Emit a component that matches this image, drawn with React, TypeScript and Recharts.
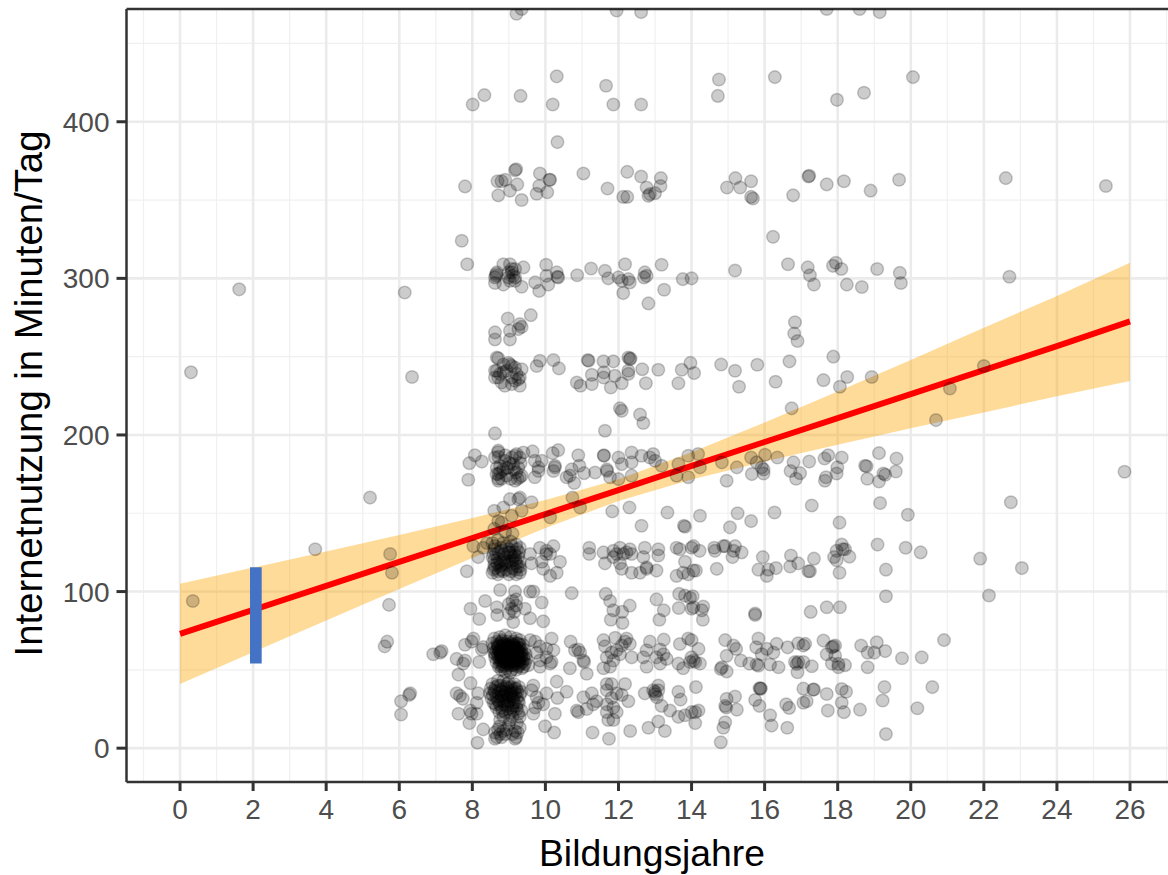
import React from "react";
import { ComposedChart, Scatter, Area, Line, XAxis, YAxis, ZAxis, CartesianGrid, ReferenceLine } from "recharts";

type P = [number, number];

const xTicks = [0, 2, 4, 6, 8, 10, 12, 14, 16, 18, 20, 22, 24, 26];
const yTicks = [0, 100, 200, 300, 400];
const xMinor = [-1, 1, 3, 5, 7, 9, 11, 13, 15, 17, 19, 21, 23, 25, 27];
const yMinor = [50, 150, 250, 350, 450];

const fitX = [0, 2, 4, 6, 8, 10, 12, 14, 16, 18, 20, 22, 24, 26];
const fitY = [73, 88.3, 103.6, 118.9, 134.2, 149.5, 164.8, 180.2, 195.5, 210.8, 226.1, 241.4, 256.7, 272.5];
const ciHigh = [105, 115.3, 125.6, 136.1, 147, 158.4, 171.8, 188.9, 208, 227.8, 247.9, 268.4, 288.7, 310];
const ciLow = [41, 61.3, 81.6, 101.7, 121.4, 140.6, 157.8, 171.5, 183, 193.8, 204.3, 214.4, 224.7, 234.5];

const outliers: P[] = [[0.3,240],[1.62,293],[0.35,94],[3.7,127],[5.2,160],[5.75,124],[5.8,112],[6.15,291],[6.35,237],[5.72,91.5],[5.6,65],[5.67,68],[6.05,30],[6.27,34],[6.3,35],[6.05,21.5],[6.93,60],[7.12,61],[21.9,121],[22.14,97.5],[23.04,115],[22.74,157],[22.7,301],[22.6,364],[22,244],[25.34,359],[25.85,176.5]];

const band120: P[] = [[7.85,113],[8.16,122],[8.03,129],[8.55,131],[8.7,133],[8.85,131],[9.05,132],[9.2,130],[8.6,127],[8.8,126],[9,127],[9.15,125],[9.3,128],[8.55,122],[8.7,121],[8.9,122],[9.1,120],[9.25,122],[8.6,117],[8.75,116],[8.95,117],[9.1,115],[9.3,116],[8.55,112],[8.7,111],[8.85,113],[9,111],[9.2,111],[9.3,112],[8.65,124],[8.95,119],[9.05,123],[8.8,114],[9.2,118],[9.58,124],[9.62,118],[9.85,128],[10.03,126],[10.22,129],[10.13,124],[10.4,119],[9.94,114.5],[10.31,112],[10.13,110],[9.9,119],[10.02,124],[11.2,128],[11.2,124],[11.59,125],[11.63,118],[11.86,126],[12.04,128],[12.31,127],[11.86,122],[12.13,124],[12.36,124],[12.04,118],[12.09,114.5],[12.36,112],[12.59,112],[12.77,114.5],[13.04,113.4],[12.72,128],[12.68,122],[13.09,127],[13.09,123],[11.95,124],[12.22,125],[12.77,115.5],[13.59,128],[13.68,127],[13.82,119],[13.59,110],[13.77,112],[13.91,111],[14.05,129],[14.22,126],[14.62,128],[14.64,126],[14.87,129],[15.19,129],[15.15,126],[15.12,122],[15.37,125],[15.95,122],[15.83,114],[16.1,114],[16.06,110],[16.31,115],[16.72,123],[16.7,116],[16.92,118],[17.2,113],[17.24,113],[17.35,121],[17.9,122],[17.97,126],[18.11,130],[18.2,127],[18.32,122.3],[17.97,120],[18.05,112],[19.09,130],[19.32,114],[19.86,128],[20.27,125],[14.69,114.5],[14.05,113.4],[14.12,113.4],[14.92,129],[18.14,127],[14,128]];

const block120: P[] = [[8.62,129],[8.78,128],[8.93,129],[9.08,129],[9.22,127],[8.58,124],[8.72,125],[8.87,124],[9.02,125],[9.17,123],[9.28,125],[8.6,120],[8.76,119],[8.9,118],[9.05,119],[9.18,120],[9.3,119],[8.62,115],[8.8,117],[8.93,114],[9.06,113],[9.18,114],[9.32,114],[8.72,113],[8.85,120],[9.12,122],[8.68,118],[8.98,125],[9.24,116],[8.58,114]];

const band90: P[] = [[8.76,101],[9.17,100],[9.67,100],[9.58,100],[9.9,93],[8.35,94],[7.95,89],[8.19,82.5],[8.68,85],[8.67,90],[9.08,89],[9,92],[9.15,87],[9.1,94],[9,86],[9.2,91],[9.44,89],[9.58,83],[9.94,81],[9.12,80.5],[10.72,99],[9.2,95],[11.65,98.5],[11.77,94],[11.86,88],[12.31,91],[12.1,87],[11.79,82],[12.11,80],[13.04,95],[13.24,88],[13.12,82],[13.65,89.5],[13.66,98.5],[13.82,97.4],[13.96,96],[19.32,97],[17.26,87],[17.7,90],[18.06,90],[15.74,86],[15.74,85],[14.03,97],[14.32,90.5],[14.28,88],[14.31,82],[14,89],[14.05,90]];

const band60: P[] = [[7.16,62],[8.03,70],[7.8,66],[8.26,63],[7.57,57],[7.8,56],[7.75,54],[8.19,55],[7.62,47],[7.98,68],[8.3,64.5],[9.58,69],[10.17,70],[9.85,65],[9.76,61],[10.22,62.5],[10.03,58],[9.85,56],[10.13,54],[9.4,52],[9.85,52],[9.72,68],[10.03,63.5],[9.53,53],[10.17,55],[10.69,68],[10.81,62.5],[10.95,61],[11.06,55],[10.67,51],[11.13,47.5],[10.9,63],[11.04,56],[11.59,69],[11.91,70.5],[12.22,70],[11.63,65],[11.95,62.5],[12.31,66.5],[12.04,60],[12.36,58],[11.86,56],[11.59,51],[11.77,52],[11.68,58],[12.09,65.5],[12.18,68],[11.81,61],[12.86,68],[12.77,62.5],[13.24,69.3],[13.14,63],[13.04,58],[12.77,52],[13.14,54],[13.32,57],[12.68,58],[13.23,60],[13.68,66.5],[13.91,70],[13.64,54],[13.77,51],[14,58],[13.96,55],[14.1,55],[14,69],[14.92,69],[14.19,63.4],[15.15,65.5],[15.22,63.4],[14.96,59],[14.05,56],[14.23,54],[14.83,51.7],[14.8,50.6],[14.96,49],[15.35,56],[15.58,54],[15.83,70],[15.77,64.4],[16.06,63.4],[15.92,60],[16.24,61],[16.33,66.6],[15.83,52.7],[16.15,53.4],[16.38,51.7],[16.63,64.4],[16.92,67],[17.11,66.6],[17.06,65.5],[16.83,55],[16.92,55],[17.06,55],[16.9,48.5],[17.29,52.3],[17.61,68.7],[17.88,64.9],[17.84,64.4],[17.93,65.5],[17.7,60],[17.93,59],[17.84,54],[18.02,53.8],[18.2,53],[18.02,51.7],[18.64,65.5],[18.82,61],[19,61],[19.07,67.6],[19.3,62],[18.82,51.7],[19.76,57.4],[20.3,58],[20.91,69],[15.78,53.4],[16.88,53.8]];

const block60: P[] = [[8.6,70],[8.75,71],[8.9,72],[9.05,71],[9.2,70],[9.3,69],[8.55,67],[8.68,68],[8.82,69],[8.97,68],[9.12,68],[9.25,67],[9.38,66],[8.58,64],[8.72,65],[8.85,66],[9,65],[9.15,65],[9.3,64],[9.42,63],[8.6,61],[8.74,62],[8.88,63],[9.02,62],[9.17,62],[9.32,61],[9.46,60],[8.62,58],[8.77,59],[8.92,60],[9.06,59],[9.2,59],[9.35,58],[9.48,57],[8.66,55],[8.8,56],[8.95,57],[9.1,56],[9.24,56],[9.38,55],[9.44,54],[8.72,52],[8.86,53],[9,54],[9.14,53],[9.28,53],[9.36,51],[8.8,50],[8.94,51],[9.08,50],[9.2,50],[8.9,49],[9.04,48.5],[8.78,61],[8.92,58],[9.06,64],[9.2,57],[8.84,55],[8.98,61],[9.12,60],[9.26,62],[9.4,59],[8.7,60],[8.86,67],[9.03,56],[9.1,66],[9.22,67],[8.96,63],[9.08,53],[8.82,59],[9.16,58],[9.3,56],[8.74,56],[9.02,60],[9.14,63],[8.9,65],[8.68,64],[8.76,67],[8.83,63],[8.91,61],[8.99,66],[9.07,62],[9.13,61],[9.21,64],[9.28,60],[9.35,62],[8.71,58],[8.79,54],[8.87,58],[8.95,54],[9.01,57],[9.09,58],[9.17,55],[9.25,58],[9.33,54],[8.73,62],[8.81,65],[8.89,55],[8.97,59],[9.05,61],[9.11,54],[9.19,61],[9.27,55],[8.65,62],[8.77,57],[8.85,61],[8.93,64],[9.01,59],[9.09,64],[9.15,59],[9.23,60],[9.31,58],[8.69,66],[8.79,60],[8.87,64],[8.93,56],[9.03,65],[9.11,57],[9.19,63],[9.29,66],[8.75,53],[8.83,52],[8.91,66],[8.99,53],[9.05,55],[9.13,66],[9.21,54],[9.27,64],[8.81,68],[8.89,59],[8.97,56],[9.07,67],[9.17,60],[9.25,52],[8.71,65],[8.95,62],[9.03,63],[9.11,59],[8.85,57],[9.19,56],[9.35,60],[8.63,60],[9.41,57],[8.77,62],[9,58],[9.09,60],[8.92,62],[9.16,64],[8.8,58],[9.24,59],[8.94,60],[9.04,58],[9.12,62],[8.86,60],[9.22,62],[8.98,64]];

const band30: P[] = [[7.95,41.5],[7.57,35],[7.74,31.5],[8.16,35],[8.12,29],[7.62,22],[7.94,24],[8.12,22],[7.92,16],[8.3,12],[8.14,3.5],[7.66,33.5],[7.98,22],[8.76,9],[9.17,6],[9.3,20],[9.3,13],[8.67,7],[8.85,11],[8.62,6],[9.2,7],[8.94,12],[8.8,7],[9.17,11],[9.03,18],[8.76,18],[9.26,22],[8.62,10],[9.67,40],[10.31,42.5],[10.58,36],[10.33,32],[10.26,22],[9.76,32.5],[9.67,22],[9.94,28],[10.03,35],[9.81,29],[9.99,14],[10.24,10],[9.62,37],[9.72,26],[11.04,32.5],[11.27,35],[11.31,28],[10.86,24],[11.13,25],[11.4,30],[10.9,23],[11.29,10],[11.74,6],[11.68,41],[11.81,41],[12.18,41],[11.68,37],[11.95,35],[12.09,34],[12.27,30],[11.68,28],[11.86,26],[11.68,23],[11.95,23],[11.72,18],[11.86,18],[11.81,32],[12.32,11],[12.82,13],[13.09,17],[13.27,11],[12.72,35],[13,36],[13.09,40],[13.05,32.5],[13.18,27],[13.41,24],[13.64,36],[13.7,31],[13.64,20],[13.82,21],[12.95,37],[13,34.5],[13.09,37],[14.12,39],[15.19,33],[14.96,31.5],[14.92,27],[14.95,26],[15.24,24.6],[15.74,30.8],[15.89,37.9],[15.89,38.3],[15.86,38.3],[15.86,27],[16.15,21],[16.19,14.4],[16.62,13],[16.59,28],[16.67,25.7],[17.06,38],[17.15,30],[17.06,29],[17.35,37.4],[17.33,37.4],[17.7,34.6],[17.73,24],[18.11,37.8],[18.23,36],[18.11,29],[18.17,23],[18.61,24.6],[19.28,39],[19.23,30.4],[20.18,25.5],[20.59,39],[19.32,9],[14,23],[14.19,24],[14.1,23],[14.1,16],[14.92,16.5],[14.87,13],[14.8,3.8]];

const block30: P[] = [[8.55,41],[8.7,43],[8.85,43],[9,42],[9.15,41],[9.28,39],[8.5,38],[8.64,39],[8.78,40],[8.92,39],[9.06,39],[9.2,38],[9.34,36],[8.48,35],[8.62,36],[8.76,37],[8.9,36],[9.04,36],[9.18,35],[9.3,34],[8.52,32],[8.66,33],[8.8,33],[8.94,33],[9.08,33],[9.22,32],[8.58,29],[8.72,30],[8.86,30],[9,30],[9.14,29],[9.28,29],[8.66,26],[8.8,26],[8.94,27],[9.08,26],[9.22,25],[9.34,24],[8.74,23],[8.9,23],[9.04,23],[8.84,34],[8.98,38],[9.12,31],[8.6,37],[8.72,35],[8.83,38],[8.96,41],[9.1,37],[9.24,36],[8.56,34],[8.69,31],[8.81,36],[8.93,31],[9.02,34],[9.13,33],[9.25,30],[8.63,28],[8.75,28],[8.88,28],[8.98,28],[9.11,27],[9.2,27],[8.7,40],[8.87,33],[9.07,35],[8.78,31],[9.16,38],[8.95,35],[8.82,24],[8.97,25],[9.12,24],[8.7,12],[8.9,9],[9.1,9],[9.24,10],[8.75,14],[9,15],[9.22,16],[8.85,20],[9.1,20]];

const band180: P[] = [[8.07,187],[7.92,182],[8.26,183],[7.89,171.4],[8.71,189],[8.71,190],[8.62,185.6],[8.94,179],[8.76,180.3],[9.21,187.8],[9.08,185.6],[9.3,185.6],[8.71,175],[8.94,174],[8.71,170.8],[9.35,174],[9.17,170.8],[9.12,181.4],[8.89,183.5],[9.26,179],[9.4,188.8],[8.76,176],[8.98,179],[9.3,173],[8.67,179],[9.17,186.7],[8.71,172],[9.65,189.5],[9.71,183.5],[9.9,183.5],[9.81,177],[9.71,173],[9.81,179.3],[10.2,188.4],[10.35,190.3],[10.26,180.3],[10.22,177],[10.26,179.3],[10.58,173],[10.67,174],[10.79,169.3],[10.72,178],[10.93,180.3],[10.9,187],[11.06,175.6],[11.36,176],[11.6,187],[11.6,186.7],[11.68,178],[11.69,177],[11.77,173],[12,185.6],[12.09,181.4],[12.36,188.8],[12.36,182.5],[12.63,186.7],[12.36,174],[12,171.8],[12.95,187.8],[12.86,185.6],[13,183.5],[13.18,180.3],[13.64,181.4],[13.59,174],[13.91,186.7],[13.91,173],[14.18,187.8],[14.23,179.3],[14.83,182.5],[15.24,179.3],[14.96,170.8],[15.63,185.6],[15.65,175],[15.78,182.5],[16.01,187.4],[16.35,185.6],[15.92,179.3],[15.97,178],[15.97,175.4],[16.79,182.5],[16.71,177],[16.97,175.6],[16.86,172],[17.22,183],[17.64,185],[17.74,187],[18.11,185.6],[17.99,179.3],[17.97,175.4],[17.68,173],[17.65,170.8],[18.75,180.3],[18.79,180],[19.13,188.4],[19.61,185],[19.59,176.7],[19.25,175.4],[19.3,174.6],[19.13,170.3],[18.81,172],[8.72,186],[8.84,178],[9.02,182],[9.2,176],[9.32,182],[8.8,172],[9.05,172],[8.9,187],[9.14,178],[8.66,175],[9.24,172]];

const band150: P[] = [[9.03,159],[9.3,160],[9.26,159],[9.62,157],[8.6,151.6],[8.85,153.7],[9.35,151.6],[9.08,148.4],[8.71,145],[8.8,144],[10.13,147.4],[10.74,160],[10.95,153.7],[11.83,151.2],[12.3,153.7],[13.34,150.5],[13.79,142],[13.82,141.4],[14.23,148.4],[12.63,142],[8.6,140],[8.9,138],[9.1,137],[8.4,131],[8.3,128],[15.05,141],[15.63,145],[18.05,144],[15.26,150],[16.27,150.5],[17.29,155],[19.16,156.5],[19.92,149]];

const band240: P[] = [[8.67,249.5],[8.71,249],[8.67,241],[8.62,236.7],[8.85,245],[9.03,245],[9.17,243],[8.94,241],[8.76,239],[9.08,236.7],[9.3,236.7],[8.89,231.4],[9.08,232.5],[9.3,231.4],[9.35,242],[8.71,236.7],[9.21,239],[8.62,241],[8.8,233.5],[8.99,246],[9.17,234.6],[8.85,240],[9.26,235.6],[9.08,244],[9.76,244],[9.85,247.4],[10.22,247.8],[10.37,242.5],[10.86,233.5],[10.96,231.4],[11.16,247.8],[11.18,247.4],[11.27,238.4],[11.27,232.5],[11.59,247],[11.6,240],[11.59,236.7],[11.86,247],[11.9,237.8],[11.79,230.3],[12.09,233],[12.27,249.5],[12.27,241],[12.31,248.4],[12.33,248.9],[12.27,239],[12.65,242],[12.75,233],[13.09,241.6],[13.64,233],[13.73,241.6],[13.97,246],[14.07,239.5],[12.04,217],[12.09,215.4],[12.59,213],[12.68,207.6],[11.63,202.7],[8.62,201],[14.81,245],[15.19,241],[15.3,230.8],[15.8,244.8],[16.3,234],[16.68,247],[17.88,250],[17.61,235],[18.26,237],[18.06,230.8],[18.93,237],[21.07,229.7],[20.69,209.5],[16.74,217]];

const band270: P[] = [[8.62,265.5],[8.62,261],[9.03,266.5],[9.03,261],[9.26,267.6],[9.35,269],[8.97,274.4],[9.6,276.5],[9.3,270.8],[16.83,272],[16.81,264.8],[16.9,260],[7.71,324],[7.86,309],[16.23,326.5]];

const band300: P[] = [[8.85,309],[9.03,309],[9.4,307],[10.02,308.7],[8.65,301.6],[8.62,297],[8.65,302.7],[8.85,296],[9.08,303.8],[9.17,306],[8.99,300.6],[9.17,298.4],[9.35,294.6],[9.72,297.4],[9.83,292],[10.08,296],[10.03,301.6],[10.31,303.8],[10.35,300.6],[10.33,301],[10.87,302],[11.25,306.3],[11.63,304.8],[11.72,300],[12,300.6],[12.18,309],[12.09,298.4],[12.27,299.5],[12.31,297.4],[12.13,290.6],[12.72,303.8],[12.77,301.6],[12.7,300.6],[13.18,308.7],[13.25,292.7],[12.82,284],[13.76,299.5],[14,300],[9.08,306],[8.99,303.8],[9.12,301.6],[8.62,300.6],[8.67,303.8],[9.17,300.6],[9.03,298.4],[15.19,305],[16.64,309],[17.18,307],[17.24,302],[17.35,296],[17.87,308],[17.95,310],[18.1,306],[18.25,296],[18.66,294.5],[19.08,306],[19.7,303.5],[19.73,297]];

const band360: P[] = [[9.17,369],[9.2,369.7],[11.04,367],[9.85,367],[10.11,363],[10.13,363],[8.9,363],[8.69,362],[8.8,362],[9.23,360],[7.8,358.7],[9.83,359],[9.03,356],[8.71,353],[9.35,350],[9.76,354],[10.05,355],[11.7,357.4],[12.13,352],[12.24,352],[12.24,368],[12.62,365],[13.16,364],[12.77,358],[13.15,359],[13,354.4],[12.82,352.7],[12.86,353.8],[14.97,358],[15.2,364],[15.33,358],[15.63,362],[15.63,352],[15.68,351],[16.78,353],[17.2,365],[17.22,365.5],[17.7,360],[18.17,362],[18.9,356],[19.68,363]];

const bandTop: P[] = [[9.21,469],[9.35,472],[11.95,471],[12.62,470],[10.31,429],[11.66,423],[8.33,417],[8.01,411],[9.32,416.5],[10.2,411],[11.86,411],[12.62,411],[10.33,387],[14.75,427],[14.72,416.5],[16.28,428.5],[17.98,414],[18.72,418.5],[20.06,428.5],[17.7,472],[18.6,472],[19.15,470]];

const allGroups: P[][] = [outliers, band120, block120, band90, band60, block60, band30, block30, band180, band150, band240, band270, band300, band360, bandTop];
const points = allGroups.flat().map(([x, y]) => ({ x, y }));
const rows = fitX.map((x, i) => ({ x, fit: fitY[i], band: [ciLow[i], ciHigh[i]] }));

const X_DOMAIN: [number, number] = [-1.465, 27.3];
const Y_DOMAIN: [number, number] = [-21.6, 472];
const FONT = "'Liberation Sans', Arial, sans-serif";

export default function App() {
  return (
    <div style={{ position: "absolute", left: 0, top: 0, width: 1168, height: 875, background: "#fff", overflow: "hidden" }}>
      <ComposedChart width={1178} height={875} data={rows} margin={{ top: 9, right: 0.5, bottom: 0, left: 0 }}>
        <CartesianGrid stroke="#f0f0f0" strokeWidth={1.2} horizontalValues={yMinor} verticalValues={xMinor} />
        <CartesianGrid stroke="#ebebeb" strokeWidth={2.6} horizontalValues={yTicks} verticalValues={xTicks} />
        <XAxis
          dataKey="x"
          type="number"
          domain={X_DOMAIN}
          allowDataOverflow
          ticks={xTicks}
          interval={0}
          height={93}
          axisLine={{ stroke: "#333333", strokeWidth: 2.5 }}
          tickLine={{ stroke: "#333333", strokeWidth: 3 }}
          tickSize={9}
          tickMargin={8}
          tick={{ fill: "#4d4d4d", fontSize: 28, fontFamily: FONT }}
          label={{ value: "Bildungsjahre", position: "insideBottom", offset: 9, fill: "#000", fontSize: 37.3, fontFamily: FONT }}
        />
        <YAxis
          dataKey="y"
          type="number"
          domain={Y_DOMAIN}
          allowDataOverflow
          ticks={yTicks}
          interval={0}
          width={126.5}
          axisLine={{ stroke: "#333333", strokeWidth: 2.5 }}
          tickLine={{ stroke: "#333333", strokeWidth: 3 }}
          tickSize={10}
          tickMargin={7}
          tick={{ fill: "#4d4d4d", fontSize: 28, fontFamily: FONT }}
          label={{ value: "Internetnutzung in Minuten/Tag", angle: -90, position: "insideLeft", offset: 0, dx: 28, dy: -2, textAnchor: "middle", fill: "#000", fontSize: 38.3, fontFamily: FONT }}
        />
        <ZAxis range={[125, 125]} />
        <Scatter data={points} fill="#000" fillOpacity={0.2} stroke="#000" strokeOpacity={0.2} strokeWidth={1.5} isAnimationActive={false} />
        <Area dataKey="band" type="linear" fill="#ffa500" fillOpacity={0.4} stroke="none" isAnimationActive={false} dot={false} activeDot={false} />
        <Line dataKey="fit" type="linear" stroke="#ff0000" strokeWidth={6} dot={false} activeDot={false} isAnimationActive={false} />
        <ReferenceLine segment={[{ x: 2.075, y: 54 }, { x: 2.075, y: 115.5 }]} stroke="#4472c4" strokeWidth={11.7} />
        <ReferenceLine y={Y_DOMAIN[1]} stroke="#333333" strokeWidth={2.5} />
      </ComposedChart>
    </div>
  );
}
